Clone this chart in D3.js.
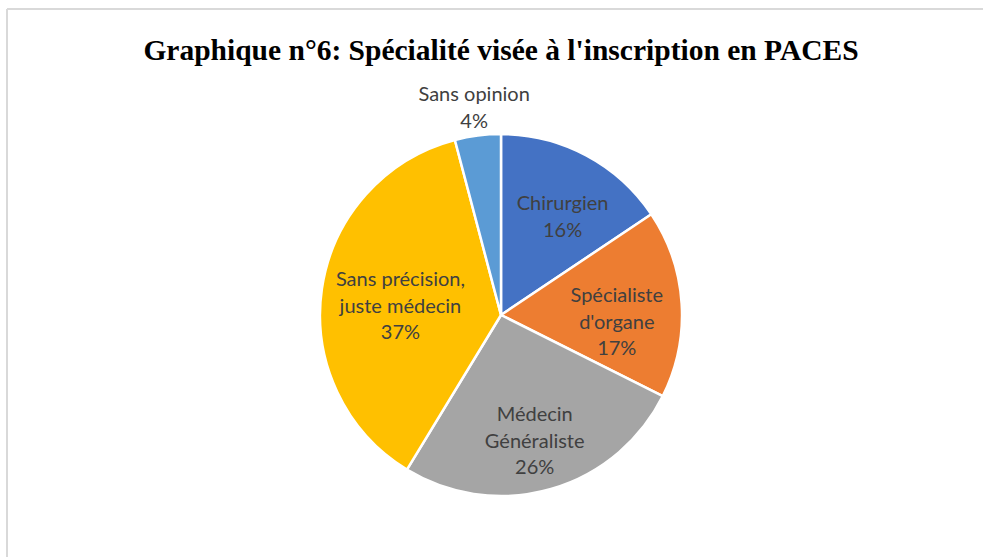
<!DOCTYPE html>
<html>
<head>
<meta charset="utf-8">
<script src="https://cdn.jsdelivr.net/npm/d3@7"></script>
<style>
  html, body { margin: 0; padding: 0; background: #fff; }
  svg { display: block; }
</style>
</head>
<body>
<svg id="chart" width="983" height="557"></svg>
<script>
// ---- Data ----
const title = "Graphique n°6: Spécialité visée à l'inscription en PACES";
const categories = ["Chirurgien", "Spécialiste d'organe", "Médecin Généraliste", "Sans précision, juste médecin", "Sans opinion"];
const labelLines = [["Chirurgien"], ["Spécialiste", "d'organe"], ["Médecin", "Généraliste"], ["Sans précision,", "juste médecin"], ["Sans opinion"]];
const values = [15.6, 16.8, 26.3, 37.2, 4.1];
const percentLabels = ["16%", "17%", "26%", "37%", "4%"];
const colors = ["#4472C4", "#ED7D31", "#A5A5A5", "#FFC000", "#5B9BD5"];

// ---- Layout ----
const W = 983, H = 557;
const cx = 501, cy = 315, R = 181;
// label placement (radius from centre and small angle nudge, degrees)
const labelPlace = [
  {r: 116, da: 4}, {r: 116, da: 7}, {r: 130, da: 1}, {r: 101, da: -3}, {r: 209, da: 0}
];
const lineH = 26.5;

const svg = d3.select("#chart");

// frame (left and top border of the cropped chart box)
svg.append("line").attr("x1", 7).attr("x2", W).attr("y1", 9).attr("y2", 9)
  .attr("stroke", "#d9d9d9").attr("stroke-width", 2);
svg.append("line").attr("x1", 7).attr("x2", 7).attr("y1", 9).attr("y2", H)
  .attr("stroke", "#d9d9d9").attr("stroke-width", 2);

// title
svg.append("text")
  .attr("x", 501).attr("y", 60)
  .attr("text-anchor", "middle")
  .attr("font-family", "'Liberation Serif', 'Times New Roman', serif")
  .attr("font-weight", "bold")
  .attr("font-size", 29.5)
  .attr("fill", "#000")
  .text(title);

const pie = d3.pie().value(d => d).sort(null);
const arcs = pie(values);
const arc = d3.arc().innerRadius(0).outerRadius(R);

const g = svg.append("g").attr("transform", `translate(${cx},${cy})`);

g.selectAll("path.slice")
  .data(arcs)
  .join("path")
  .attr("class", "slice")
  .attr("d", arc)
  .attr("fill", (d, i) => colors[i])
  .attr("stroke", "#fff")
  .attr("stroke-width", 2.5)
  .attr("stroke-linejoin", "round");

g.selectAll("text.lab")
  .data(arcs)
  .join("text")
  .attr("class", "lab")
  .attr("text-anchor", "middle")
  .attr("font-family", "Lato, 'Open Sans', sans-serif")
  .attr("font-size", 20)
  .attr("fill", "#404040")
  .each(function(d, i) {
    const mid = (d.startAngle + d.endAngle) / 2 + labelPlace[i].da * Math.PI / 180;
    const r = labelPlace[i].r;
    const x = r * Math.sin(mid), y = -r * Math.cos(mid);
    const lines = labelLines[i].concat([percentLabels[i]]);
    const n = lines.length;
    const t = d3.select(this);
    lines.forEach((s, k) => {
      t.append("tspan")
        .attr("x", x)
        .attr("y", y + (k - (n - 1) / 2) * lineH)
        .attr("dy", "0.35em")
        .text(s);
    });
  });
</script>
</body>
</html>
